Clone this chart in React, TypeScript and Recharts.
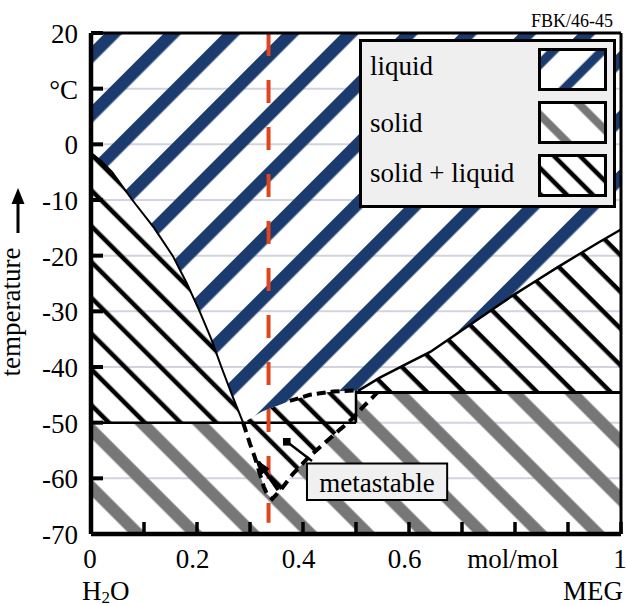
import React from 'react';
import {
  ComposedChart, Area, Line, XAxis, YAxis, CartesianGrid,
  ReferenceLine, ReferenceArea, Legend,
} from 'recharts';

const FONT = "'Liberation Serif', 'Times New Roman', Times, serif";
const BLUE = '#1b3a6d';
const GRAY = '#777777';
const RED = '#e0461e';
const PANEL = '#efefef';

// ---- axes ----
const tempTicks = [-70, -60, -50, -40, -30, -20, -10, 0, 10, 20];
const tempTickLabels = ['-70', '-60', '-50', '-40', '-30', '-20', '-10', '0', '°C', '20'];
const fracTicks = [0, 0.1, 0.2, 0.3, 0.4, 0.5, 0.6, 0.7, 0.8, 0.9, 1];
const fracTickLabels = ['0', '', '0.2', '', '0.4', '', '0.6', '', 'mol/mol', '', '1'];

const T_MIN = -70;
const T_MAX = 20;
const EUTECTIC_ICE = -50;
const EUTECTIC_MEG = -44.6;
const COMPOUND_X = 0.5;
const SAMPLE_X = 0.335;
const SAMPLE_T_END = -68;

// ---- phase boundaries (x = MEG mole fraction, t = °C) ----
const iceLiquidus = [
  { x: 0, t: -1.5 }, { x: 0.02, t: -3.1 }, { x: 0.04, t: -5.0 }, { x: 0.078, t: -10 },
  { x: 0.119, t: -15 }, { x: 0.154, t: -20 }, { x: 0.181, t: -25 }, { x: 0.205, t: -30 },
  { x: 0.227, t: -35 }, { x: 0.246, t: -40 }, { x: 0.266, t: -45 }, { x: 0.287, t: -50 },
];
const compoundLiquidus = [
  { x: 0.287, t: -50 }, { x: 0.323, t: -48.0 }, { x: 0.375, t: -46.1 }, { x: 0.413, t: -45.0 },
  { x: 0.457, t: -44.4 }, { x: 0.5, t: -44.2 },
];
const megLiquidus = [
  { x: 0.504, t: -44.3 }, { x: 0.545, t: -41.9 }, { x: 0.6, t: -39.2 }, { x: 0.64, t: -37.3 },
  { x: 0.68, t: -34.7 }, { x: 0.72, t: -32.1 }, { x: 0.76, t: -29.5 }, { x: 0.8, t: -26.9 },
  { x: 0.84, t: -24.5 }, { x: 0.88, t: -22.1 }, { x: 0.92, t: -19.8 }, { x: 0.96, t: -17.5 },
  { x: 1, t: -15.3 },
];
const iceMetastable = [
  { x: 0.287, t: -50 }, { x: 0.3, t: -53.8 }, { x: 0.309, t: -56.2 }, { x: 0.318, t: -59 },
  { x: 0.326, t: -61.5 }, { x: 0.332, t: -62.8 }, { x: 0.342, t: -63.7 },
];
const megMetastable = [
  { x: 0.342, t: -63.7 }, { x: 0.357, t: -62.2 }, { x: 0.381, t: -59.2 }, { x: 0.413, t: -56.0 },
  { x: 0.445, t: -53.3 }, { x: 0.47, t: -51.2 }, { x: 0.485, t: -50 }, { x: 0.494, t: -49.2 },
  { x: 0.513, t: -47.2 }, { x: 0.53, t: -45.6 }, { x: 0.54, t: -44.6 },
];
const coolingArrow = [{ x: 0.353, t: -62.1 }, { x: 0.316, t: -57.0 }];
const metaPointer = [{ x: 0.369, t: -53.4 }, { x: 0.417, t: -56.9 }];
const metaBox = { x1: 0.4075, x2: 0.672, t1: -63.9, t2: -57.33, label: 'metastable' };

const legendLabels = ['liquid', 'solid', 'solid + liquid'];
const legendPatterns = ['lgBlue', 'lgGray', 'lgBlack'];

// ---- derived series ----
const blueData = [...iceLiquidus, ...compoundLiquidus.slice(1), ...megLiquidus]
  .map((p) => ({ x: p.x, r: [p.t, T_MAX] }));
const leftBlackData = iceLiquidus.map((p) => ({ x: p.x, r: [EUTECTIC_ICE, p.t] }));
const midBlackData = compoundLiquidus.map((p) => ({ x: p.x, r: [EUTECTIC_ICE, p.t] }));
const rightBlackData = [compoundLiquidus[compoundLiquidus.length - 1], ...megLiquidus]
  .map((p) => ({ x: p.x, r: [EUTECTIC_MEG, p.t] }));
const grayData = [
  { x: 0, r: [T_MIN, EUTECTIC_ICE] },
  { x: COMPOUND_X, r: [T_MIN, EUTECTIC_ICE] },
  { x: COMPOUND_X, r: [T_MIN, EUTECTIC_MEG] },
  { x: 1, r: [T_MIN, EUTECTIC_MEG] },
];
const metaData = [...iceMetastable, ...megMetastable.slice(1).filter((p) => p.t <= EUTECTIC_ICE)]
  .map((p) => ({ x: p.x, r: [p.t, EUTECTIC_ICE] }));
const metaLine = [...iceMetastable, ...megMetastable.slice(1)];
const compoundDashed = compoundLiquidus.filter((p) => p.x >= 0.37);
const iceEutecticLine = [{ x: 0, t: EUTECTIC_ICE }, { x: COMPOUND_X, t: EUTECTIC_ICE }];
const megEutecticLine = [{ x: COMPOUND_X, t: EUTECTIC_MEG }, { x: 1, t: EUTECTIC_MEG }];
const compoundLine = [{ x: COMPOUND_X, t: EUTECTIC_ICE }, { x: COMPOUND_X, t: -44.2 }];
const sampleLine = [{ x: SAMPLE_X, t: T_MAX }, { x: SAMPLE_X, t: SAMPLE_T_END }];

const Hatch = ({ id, angle, d, u, w, color, bg }: any) => (
  <pattern id={id} patternUnits="userSpaceOnUse" width={d} height={d}
    patternTransform={`rotate(${angle})`}>
    {bg ? <rect x={0} y={0} width={d} height={d} fill={bg} /> : null}
    {[-d, 0, d].map((k) => (
      <rect key={k} x={u + k - w / 2} y={-1} width={w} height={d + 2} fill={color} />
    ))}
  </pattern>
);

const YTick = (props: any) => {
  const { x, y, payload } = props;
  const i = tempTicks.indexOf(payload.value);
  return (
    <g>
      <line x1={x} y1={y} x2={x + 12} y2={y} stroke="#000" strokeWidth={4} />
      <text x={x - 13} y={y + 10} textAnchor="end" fontFamily={FONT} fontSize={27} fill="#000">
        {tempTickLabels[i]}
      </text>
    </g>
  );
};

const XTick = (props: any) => {
  const { x, y, payload } = props;
  const i = fracTicks.findIndex((v) => Math.abs(v - payload.value) < 1e-9);
  const label = fracTickLabels[i] || '';
  const dx = label.includes('.') ? -4.5 : label.length > 2 ? -2 : -1;
  return (
    <g>
      <line x1={x} y1={y} x2={x} y2={y - 12} stroke="#000" strokeWidth={3.5} />
      {label ? (
        <text x={x + dx} y={y + 34} textAnchor="middle" fontFamily={FONT} fontSize={27} fill="#000">
          {label}
        </text>
      ) : null}
    </g>
  );
};

const YTitle = () => (
  <g>
    <text x={20} y={312} transform="rotate(-90 20 312)" textAnchor="middle"
      fontFamily={FONT} fontSize={27} fill="#000">temperature</text>
    <rect x={16.5} y={200} width={3} height={33} fill="#000" />
    <polygon points="18,188 11.5,204 24.5,204" fill="#000" />
  </g>
);

const XTitle = () => (
  <g fontFamily={FONT} fontSize={27} fill="#000">
    <text x={82} y={600}>H<tspan fontSize={17} dy={3}>2</tspan><tspan dy={-3}>O</tspan></text>
    <text x={623} y={600} textAnchor="end">MEG</text>
  </g>
);

const FigId = () => (
  <text x={613} y={27} textAnchor="end" fontFamily={FONT} fontSize={18} fill="#000">FBK/46-45</text>
);

const MetaLabel = (props: any) => {
  const vb = props.viewBox || {};
  return (
    <text x={vb.x + vb.width / 2} y={vb.y + vb.height / 2 + 10} textAnchor="middle"
      fontFamily={FONT} fontSize={27} fill="#000">{metaBox.label}</text>
  );
};

const LegendBox = () => (
  <svg width={257} height={169} style={{ display: 'block' }}>
    <defs>
      <Hatch id="lgBlue" angle={45} d={34.65} u={7.07} w={9} color={BLUE} />
      <Hatch id="lgGray" angle={-45} d={35.36} u={3.54} w={8} color={GRAY} />
      <Hatch id="lgBlack" angle={-45} d={18.38} u={0} w={4.5} color="#000" />
    </defs>
    <rect x={1.5} y={1.5} width={254} height={166} fill={PANEL} stroke="#000" strokeWidth={3} />
    {legendLabels.map((lab, i) => (
      <g key={lab}>
        <text x={11} y={[36, 92.5, 143][i]} fontFamily={FONT} fontSize={27} fill="#000">{lab}</text>
        <rect x={180.5} y={10.5 + 53 * i} width={66} height={40} fill="#fff" />
        <rect x={180.5} y={10.5 + 53 * i} width={66} height={40}
          fill={`url(#${legendPatterns[i]})`} stroke="#000" strokeWidth={3} />
      </g>
    ))}
  </svg>
);

export default function App() {
  return (
    <div style={{ position: 'absolute', left: 0, top: 0, width: 627, height: 605, background: '#fff' }}>
      <ComposedChart width={627} height={605} margin={{ top: 33, right: 6, bottom: 31, left: 0 }}>
        <defs>
          <Hatch id="hBlue" angle={45} d={41.86} u={20.22} w={12.5} color={BLUE} />
          <Hatch id="hGray" angle={-45} d={40.66} u={4.6} w={12} color={GRAY} />
          <Hatch id="hBlackL" angle={-45} d={25.31} u={5.94} w={4.5} color="#000" />
          <Hatch id="hBlackR" angle={-45} d={25.95} u={24.75} w={4.5} color="#000" />
          <Hatch id="hBlackMeta" angle={-45} d={25.31} u={5.94} w={4.5} color="#000" bg="#fff" />
          <marker id="arrowHead" viewBox="0 0 10 10" markerWidth={4} markerHeight={3}
            refX={9} refY={5} orient="auto" markerUnits="strokeWidth" preserveAspectRatio="none">
            <path d="M0,0 L10,5 L0,10 z" fill="#000" />
          </marker>
          <marker id="sqMark" viewBox="0 0 8 8" markerWidth={8} markerHeight={8}
            refX={4} refY={4} markerUnits="userSpaceOnUse">
            <rect x={0} y={0} width={8} height={8} fill="#000" />
          </marker>
        </defs>
        <CartesianGrid vertical={false} stroke="#d3d3df" strokeWidth={2} />

        <Area data={blueData} dataKey="r" type="linear" stroke="none" fill="url(#hBlue)" fillOpacity={1} isAnimationActive={false} />
        <Area data={leftBlackData} dataKey="r" type="linear" stroke="none" fill="url(#hBlackL)" fillOpacity={1} isAnimationActive={false} />
        <Area data={midBlackData} dataKey="r" type="linear" stroke="none" fill="url(#hBlackL)" fillOpacity={1} isAnimationActive={false} />
        <Area data={rightBlackData} dataKey="r" type="linear" stroke="none" fill="url(#hBlackR)" fillOpacity={1} isAnimationActive={false} />
        <Area data={grayData} dataKey="r" type="linear" stroke="none" fill="url(#hGray)" fillOpacity={1} isAnimationActive={false} />
        <Area data={metaData} dataKey="r" type="linear" stroke="none" fill="url(#hBlackMeta)" fillOpacity={1} isAnimationActive={false} />

        <Line data={iceLiquidus} dataKey="t" type="linear" stroke="#000" strokeWidth={2} dot={false} isAnimationActive={false} />
        <Line data={megLiquidus} dataKey="t" type="linear" stroke="#000" strokeWidth={2.5} dot={false} isAnimationActive={false} />
        <Line data={iceEutecticLine} dataKey="t" type="linear" stroke="#000" strokeWidth={2.5} dot={false} isAnimationActive={false} />
        <Line data={megEutecticLine} dataKey="t" type="linear" stroke="#000" strokeWidth={3} dot={false} isAnimationActive={false} />
        <Line data={compoundLine} dataKey="t" type="linear" stroke="#000" strokeWidth={2.5} dot={false} isAnimationActive={false} />
        <Line data={metaLine} dataKey="t" type="linear" stroke="#000" strokeWidth={4} strokeDasharray="10 6" dot={false} isAnimationActive={false} />
        <Line data={compoundDashed} dataKey="t" type="linear" stroke="#000" strokeWidth={4} strokeDasharray="9 5" dot={false} isAnimationActive={false} />
        <Line data={sampleLine} dataKey="t" type="linear" stroke={RED} strokeWidth={4} strokeDasharray="23 24" dot={false} isAnimationActive={false} />
        <Line data={coolingArrow} dataKey="t" type="linear" stroke="#000" strokeWidth={3.5} dot={false} markerEnd="url(#arrowHead)" isAnimationActive={false} />
        <Line data={metaPointer} dataKey="t" type="linear" stroke="#000" strokeWidth={2.5} dot={false} markerStart="url(#sqMark)" isAnimationActive={false} />

        <ReferenceArea x1={metaBox.x1} x2={metaBox.x2} y1={metaBox.t1} y2={metaBox.t2}
          fill="#f0f0f0" fillOpacity={1} stroke="#000" strokeWidth={2} label={<MetaLabel />} />

        <ReferenceLine y={T_MAX} stroke="#000" strokeWidth={3} label={<FigId />} />
        <ReferenceLine x={1} stroke="#000" strokeWidth={3} />

        <Legend layout="vertical" align="center" verticalAlign="middle" content={() => <LegendBox />}
          wrapperStyle={{ left: 359, top: 39, width: 257, height: 169, margin: 0, padding: 0 }} />

        <XAxis type="number" dataKey="x" domain={[0, 1]} ticks={fracTicks} interval={0}
          tickSize={0} tickMargin={0} height={40} tick={<XTick />}
          axisLine={{ stroke: '#000', strokeWidth: 4.5 }} tickLine={false} label={<XTitle />} />
        <YAxis type="number" domain={[T_MIN, T_MAX]} ticks={tempTicks} interval={0}
          tickSize={0} tickMargin={0} width={91} tick={<YTick />}
          axisLine={{ stroke: '#000', strokeWidth: 4.5 }} tickLine={false} label={<YTitle />} />
      </ComposedChart>
    </div>
  );
}
